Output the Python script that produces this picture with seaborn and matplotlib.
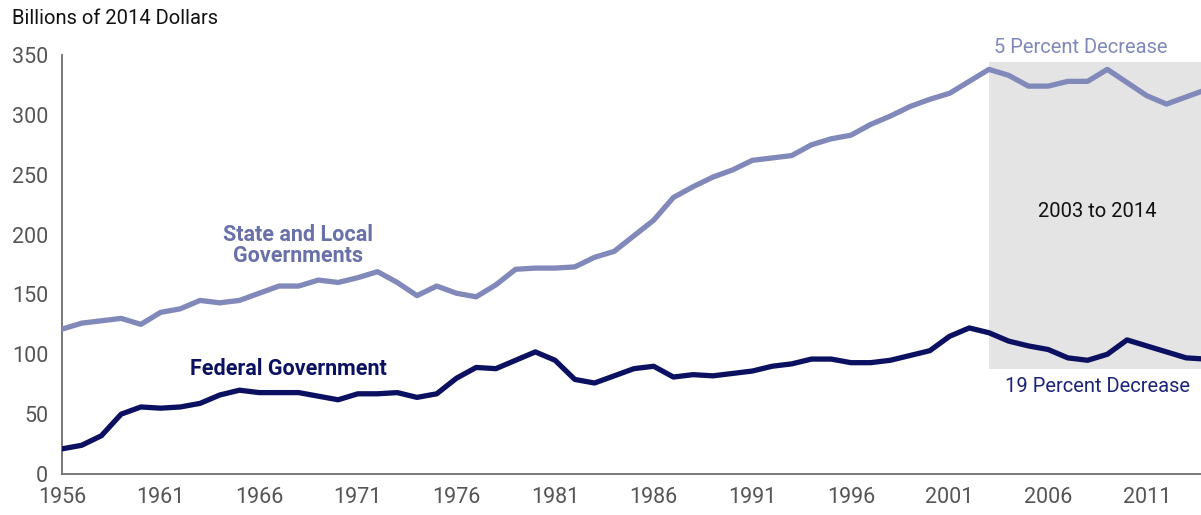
import numpy as np
import pandas as pd
import matplotlib
matplotlib.use("Agg")
import matplotlib.pyplot as plt
import seaborn as sns

years = list(range(1956, 2015))
state_local = [121, 126, 128, 130, 125, 135, 138, 145, 143, 145,
               151, 157, 157, 162, 160, 164, 169, 160, 149, 157,
               151, 148, 158, 171, 172, 172, 173, 181, 186, 199,
               212, 231, 240, 248, 254, 262, 264, 266, 275, 280,
               283, 292, 299, 307, 313, 318, 328, 338, 333, 324,
               324, 328, 328, 338, 327, 316, 309, 315, 321]
federal = [21, 24, 32, 50, 56, 55, 56, 59, 66, 70,
           68, 68, 68, 65, 62, 67, 67, 68, 64, 67,
           80, 89, 88, 95, 102, 95, 79, 76, 82, 88,
           90, 81, 83, 82, 84, 86, 90, 92, 96, 96,
           93, 93, 95, 99, 103, 115, 122, 118, 111, 107,
           104, 97, 95, 100, 112, 107, 102, 97, 96]
series_names = ["State and Local Governments", "Federal Government"]
x_ticks = [1956, 1961, 1966, 1971, 1976, 1981, 1986, 1991, 1996, 2001, 2006, 2011]
y_ticks = [0, 50, 100, 150, 200, 250, 300, 350]
shade_years = (2003, 2014)
shade_range = (88, 344)

df = pd.DataFrame({
    "year": years * 2,
    "value": state_local + federal,
    "series": [series_names[0]] * len(years) + [series_names[1]] * len(years),
})

sns.set_theme(style="white")
plt.rcParams['font.family'] = ['Roboto', 'DejaVu Sans']

light = "#8188ba"
dark = "#0b1160"
fig = plt.figure(figsize=(12.01, 5.15), dpi=100)
ax = fig.add_axes([0.0516, 0.0796, 0.9484, 0.8136])

ax.fill_between(shade_years, shade_range[0], shade_range[1], color="#e4e4e4", lw=0, zorder=0)

sns.lineplot(data=df, x="year", y="value", hue="series",
             palette={series_names[0]: light, series_names[1]: dark},
             linewidth=3.8, legend=False, ax=ax, zorder=3)

ax.set_xlim(1956, 2013.75)
ax.set_ylim(0, 350)
ax.set_xticks(x_ticks)
ax.set_yticks(y_ticks)
ax.set_xlabel("")
ax.set_ylabel("")
for s in ["top", "right"]:
    ax.spines[s].set_visible(False)
for s in ["left", "bottom"]:
    ax.spines[s].set_color("#6e6e6e")
    ax.spines[s].set_linewidth(1.3)
ax.tick_params(axis="both", direction="in", length=7, width=1.3, color="#6e6e6e",
               labelsize=15.5, labelcolor="#555555")
ax.tick_params(axis="y", pad=10)
ax.tick_params(axis="x", pad=9)
ax.grid(False)

ax.text(1967.97, 191, "State and Local\nGovernments", ha="center", va="center",
        multialignment="center", fontsize=15.5, fontweight="bold", color="#6a70a8",
        linespacing=0.95)
ax.text(1967.5, 87.7, "Federal Government", ha="center", va="center",
        fontsize=15.5, fontweight="bold", color=dark)
ax.text(2007.67, 356, "5 Percent Decrease", ha="center", va="center",
        fontsize=14.5, color=light)
ax.text(2008.5, 73.5, "19 Percent Decrease", ha="center", va="center",
        fontsize=14.5, color="#1c2378")
ax.text(2008.5, 219, "2003 to 2014", ha="center", va="center",
        fontsize=14.5, color="#111111")
fig.text(0.01, 0.965, "Billions of 2014 Dollars", ha="left", va="center",
         fontsize=14.5, color="#111111")

fig.savefig("out.png", dpi=100)
